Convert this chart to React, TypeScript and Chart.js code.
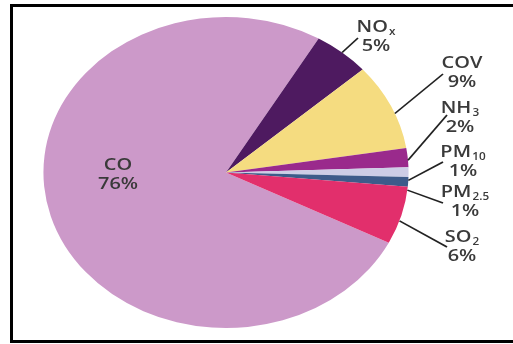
import React, { useEffect, useRef } from 'react';
import { Chart, registerables } from 'chart.js';

Chart.register(...registerables);

// ---- data ----
const categories = ['CO', 'NOx', 'COV', 'NH3', 'PM10', 'PM2.5', 'SO2'];
const shares = [76, 5, 9, 2, 1, 1, 6];
const labelMain = ['CO', 'NO', 'COV', 'NH', 'PM', 'PM', 'SO'];
const labelSub = ['', 'x', '', '3', '10', '2.5', '2'];
const colors = ['#cc99c9', '#4e1a60', '#f5dc80', '#9a2a8c', '#cdcde6', '#3d5b8a', '#e22f6c'];

// ---- layout (page pixels) ----
const SX = 1.174; // horizontal stretch of the whole picture
const labelCenterX = [118, 376, 462, 460, 463, 465, 462];
const labelBaseline = [170, 32, 68, 113, 157, 197, 242];
const leaderEnd: (number[] | null)[] = [null, [358, 38], [443, 74], [447, 115], [443, 162], [443, 203], [447, 247]];
const leaderNudgeDeg = [0, 0, 3, 1, 3, 3, 2];

const FONT = '"Open Sans", "DejaVu Sans", sans-serif';
const W = 600;

const stretchPlugin = {
  id: 'stretchAndLabels',
  beforeDraw(chart: any) {
    chart.ctx.save();
    chart.ctx.scale(SX, 1);
  },
  afterDraw(chart: any) {
    const ctx = chart.ctx as CanvasRenderingContext2D;
    const meta = chart.getDatasetMeta(0);
    ctx.fillStyle = '#3a3a3a';
    ctx.strokeStyle = '#222222';
    ctx.lineWidth = 1.5;
    meta.data.forEach((arc: any, i: number) => {
      const p = arc.getProps(['x', 'y', 'startAngle', 'endAngle', 'outerRadius'], true);
      const end = leaderEnd[i];
      if (end) {
        const a = (p.startAngle + p.endAngle) / 2 + (leaderNudgeDeg[i] * Math.PI) / 180;
        const x0 = p.x + p.outerRadius * Math.cos(a);
        const y0 = p.y + p.outerRadius * Math.sin(a);
        ctx.beginPath();
        ctx.moveTo(x0, y0);
        ctx.lineTo(end[0] / SX, end[1]);
        ctx.stroke();
      }
      const cx = labelCenterX[i] / SX;
      const by = labelBaseline[i];
      ctx.textBaseline = 'alphabetic';
      ctx.font = `${W} 17px ${FONT}`;
      const mw = ctx.measureText(labelMain[i]).width;
      ctx.font = `${W} 10px ${FONT}`;
      const sub = labelSub[i];
      const sw = sub ? ctx.measureText(sub).width + 1 : 0;
      const left = cx - (mw + sw) / 2;
      ctx.textAlign = 'left';
      ctx.font = `${W} 17px ${FONT}`;
      ctx.fillText(labelMain[i], left, by);
      if (sub) {
        ctx.font = `${W} 10px ${FONT}`;
        ctx.fillText(sub, left + mw + 1, by + 3);
      }
      ctx.font = `${W} 17px ${FONT}`;
      ctx.textAlign = 'center';
      ctx.fillText(`${shares[i]}%`, cx, by + 19);
    });
    ctx.restore();
  },
};

export default function App() {
  const ref = useRef<HTMLCanvasElement | null>(null);
  useEffect(() => {
    if (!ref.current) return;
    const chart = new Chart(ref.current, {
      type: 'pie',
      data: {
        labels: categories,
        datasets: [
          {
            data: shares,
            backgroundColor: colors,
            borderWidth: 0,
            clip: false as any,
          } as any,
        ],
      },
      options: {
        responsive: false,
        animation: false,
        devicePixelRatio: 1,
        rotation: 116.9,
        layout: { padding: { left: 37, right: 165, top: 17, bottom: 16 } },
        plugins: { legend: { display: false }, tooltip: { enabled: false } },
        events: [],
      },
      plugins: [stretchPlugin],
    });
    return () => chart.destroy();
  }, []);
  return (
    <div style={{ position: 'fixed', left: 0, top: 0, width: 513, height: 344, background: '#fff', overflow: 'hidden' }}>
      <div
        style={{
          position: 'absolute',
          left: 10,
          top: 4,
          width: 600,
          height: 339,
          border: '3px solid #000',
          boxSizing: 'border-box',
        }}
      />
      <canvas ref={ref} width={513} height={344} style={{ position: 'absolute', left: 0, top: 0, display: 'block' }} />
    </div>
  );
}
